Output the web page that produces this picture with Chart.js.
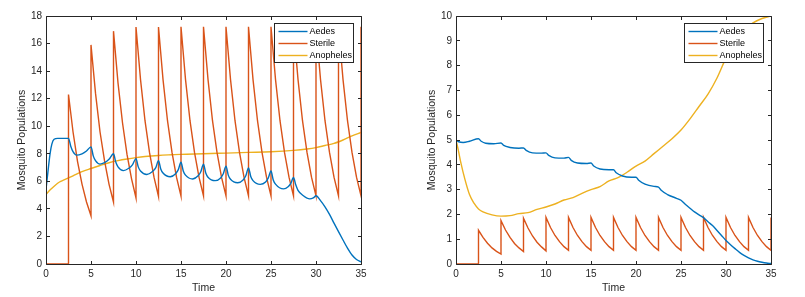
<!DOCTYPE html>
<html>
<head>
<meta charset="utf-8">
<script src="https://cdn.jsdelivr.net/npm/chart.js@4.4.0/dist/chart.umd.min.js"></script>
<style>
  body { margin: 0; background: #fff; width: 805px; height: 297px; position: relative; overflow: hidden; }
  canvas { position: absolute; top: 0; }
</style>
</head>
<body>
<canvas id="left" width="400" height="297" style="left:0"></canvas>
<canvas id="right" width="405" height="297" style="left:400px"></canvas>
<script>
// ---- shared ----
const labels = ['Aedes', 'Sterile', 'Anopheles'];
const xTicks = [0, 5, 10, 15, 20, 25, 30, 35];

// sterile releases every 2.5 time units (duplicate times = vertical jumps)
const sterileT = [0, 2.5, 2.5, 3, 3.5, 4, 4.5, 5, 5, 5.5, 6, 6.5, 7, 7.5, 7.5, 8, 8.5, 9, 9.5, 10,
  10, 10.5, 11, 11.5, 12, 12.5, 12.5, 13, 13.5, 14, 14.5, 15, 15, 15.5, 16, 16.5, 17, 17.5,
  17.5, 18, 18.5, 19, 19.5, 20, 20, 20.5, 21, 21.5, 22, 22.5, 22.5, 23, 23.5, 24, 24.5, 25,
  25, 25.5, 26, 26.5, 27, 27.5, 27.5, 28, 28.5, 29, 29.5, 30, 30, 30.5, 31, 31.5, 32, 32.5,
  32.5, 33, 33.5, 34, 34.5, 35, 35];

// ---- left panel ----
const leftYTicks = [0, 2, 4, 6, 8, 10, 12, 14, 16, 18];
const leftAedesT = [0, 0.2, 0.45, 0.65, 0.9, 1.3, 2.5, 2.75, 3.0, 3.4, 4.0, 4.5, 5.0, 5.25, 5.5, 6.0, 6.5, 7.0,
  7.5, 7.75, 8.0, 8.6, 9.2, 9.6, 10, 10.25, 10.5, 11.2, 11.8, 12.2, 12.5, 12.75, 13.0, 13.8, 14.4, 14.7,
  15, 15.25, 15.5, 16.3, 16.9, 17.2, 17.5, 17.75, 18.0, 18.8, 19.4, 19.7, 20, 20.25, 20.5, 21.3, 21.9, 22.2,
  22.5, 22.75, 23.0, 23.8, 24.4, 24.7, 25, 25.25, 25.5, 26.4, 26.9, 27.2, 27.5, 27.75, 28.0, 28.6, 29.3, 29.7,
  30, 30.5, 31, 31.5, 32, 32.5, 33, 33.5, 34, 34.5, 35];
const leftAedes = [5.4, 6.6, 8.0, 8.7, 9.05, 9.12, 9.12, 8.55, 8.15, 7.9, 8.0, 8.2, 8.5, 7.85, 7.5, 7.25, 7.35, 7.6,
  8.0, 7.4, 7.05, 6.78, 6.95, 7.2, 7.65, 7.05, 6.75, 6.5, 6.7, 7.0, 7.5, 6.9, 6.6, 6.33, 6.55, 6.85,
  7.38, 6.75, 6.45, 6.17, 6.4, 6.7, 7.25, 6.6, 6.3, 6.05, 6.25, 6.55, 7.1, 6.45, 6.15, 5.9, 6.1, 6.4,
  6.98, 6.35, 6.05, 5.78, 5.95, 6.25, 6.75, 6.1, 5.8, 5.45, 5.6, 5.85, 6.28, 5.75, 5.35, 4.95, 4.73, 4.8,
  4.95, 4.6, 4.15, 3.6, 2.97, 2.35, 1.74, 1.15, 0.65, 0.33, 0.15];
const leftSterile = [0, 0,
  12.3, 9.6, 7.45, 5.8, 4.5, 3.5,
  15.9, 12.4, 9.6, 7.5, 5.8, 4.5,
  16.9, 13.15, 10.25, 7.95, 6.2, 4.8,
  17.2, 13.4, 10.4, 8.1, 6.3, 4.9,
  17.2, 13.4, 10.4, 8.1, 6.3, 4.93,
  17.22, 13.4, 10.4, 8.1, 6.3, 4.95,
  17.22, 13.4, 10.4, 8.1, 6.3, 4.95,
  17.22, 13.4, 10.4, 8.1, 6.3, 4.95,
  17.22, 13.4, 10.4, 8.1, 6.3, 4.95,
  17.22, 13.4, 10.4, 8.1, 6.3, 4.95,
  17.22, 13.4, 10.4, 8.1, 6.3, 4.95,
  17.22, 13.4, 10.4, 8.1, 6.3, 4.95,
  17.22, 13.4, 10.4, 8.1, 6.3, 4.95,
  17.22];
const leftAnophT = [0, 0.5, 1, 1.5, 2, 2.5, 3, 4, 5, 6, 7, 8, 9, 10, 11, 12.5, 14, 15, 17.5, 20,
  22.5, 25, 27.5, 29, 30, 31, 32, 33, 34, 35];
const leftAnoph = [5.05, 5.4, 5.7, 5.95, 6.1, 6.25, 6.4, 6.7, 6.93, 7.15, 7.35, 7.5, 7.62, 7.72, 7.8, 7.88, 7.93, 7.96, 8.0, 8.05,
  8.1, 8.15, 8.25, 8.35, 8.45, 8.6, 8.75, 9.0, 9.3, 9.55];

// ---- right panel ----
const rightYTicks = [0, 1, 2, 3, 4, 5, 6, 7, 8, 9, 10];
const rightAedesT = [0, 0.3, 0.8, 1.5, 2.5, 2.8, 3.3, 4.2, 5, 5.3, 6.0, 7.0, 7.5, 7.8, 8.5, 9.5, 10, 10.3, 11, 12,
  12.5, 12.8, 13.5, 14.5, 15, 15.3, 16, 17, 17.5, 17.8, 18.5, 19.5, 20, 20.3, 21, 22, 22.5, 22.8, 23.5, 24.5,
  25, 25.5, 26, 26.5, 27, 27.5, 28, 28.5, 29, 29.5, 30, 30.5, 31, 31.5, 32, 32.5, 33, 33.5, 34, 34.5, 35];
const rightAedes = [5.0, 4.93, 4.9, 4.95, 5.05, 4.95, 4.87, 4.85, 4.88, 4.78, 4.7, 4.67, 4.68, 4.58, 4.48, 4.47, 4.48, 4.38, 4.28, 4.27,
  4.3, 4.18, 4.07, 4.05, 4.07, 3.95, 3.83, 3.8, 3.8, 3.68, 3.55, 3.5, 3.5, 3.38, 3.22, 3.13, 3.1, 2.97, 2.8, 2.65,
  2.57, 2.4, 2.25, 2.1, 1.98, 1.87, 1.7, 1.55, 1.35, 1.15, 0.95, 0.78, 0.62, 0.47, 0.35, 0.25, 0.17, 0.11, 0.07, 0.04, 0.02];
const rightSterile = [0, 0,
  1.36, 1.07, 0.84, 0.65, 0.51, 0.4,
  1.75, 1.37, 1.07, 0.83, 0.65, 0.5,
  1.85, 1.45, 1.13, 0.88, 0.69, 0.53,
  1.88, 1.47, 1.15, 0.9, 0.7, 0.55,
  1.88, 1.47, 1.15, 0.9, 0.7, 0.55,
  1.88, 1.47, 1.15, 0.9, 0.7, 0.55,
  1.88, 1.47, 1.15, 0.9, 0.7, 0.55,
  1.88, 1.47, 1.15, 0.9, 0.7, 0.55,
  1.88, 1.47, 1.15, 0.9, 0.7, 0.55,
  1.88, 1.47, 1.15, 0.9, 0.7, 0.55,
  1.88, 1.47, 1.15, 0.9, 0.7, 0.55,
  1.88, 1.47, 1.15, 0.9, 0.7, 0.55,
  1.88, 1.47, 1.15, 0.9, 0.7, 0.55,
  1.88];
const rightAnophT = [0, 0.25, 0.5, 1, 1.5, 2, 2.5, 3, 4, 5, 6, 7, 8, 9, 10, 11, 12, 13, 14, 15,
  16, 17, 18, 19, 20, 21, 22, 23, 24, 25, 26, 27, 28, 29, 30, 31, 32, 33, 34, 35];
const rightAnoph = [5.0, 4.6, 4.15, 3.4, 2.8, 2.45, 2.22, 2.1, 1.98, 1.93, 1.95, 2.03, 2.07, 2.2, 2.3, 2.42, 2.58, 2.68, 2.85, 3.0,
  3.12, 3.35, 3.48, 3.7, 3.95, 4.15, 4.45, 4.75, 5.05, 5.4, 5.85, 6.35, 6.85, 7.5, 8.3, 8.9, 9.4, 9.72, 9.9, 10.0];

const colors = ['#0072BD', '#D95319', '#EDB120'];
const FONT = '"Liberation Sans", Arial, Helvetica, sans-serif';
const INK = '#262626';

function line(i, t, y, straight) {
  return {
    label: labels[i],
    data: t.map((x, k) => ({ x, y: y[k] })),
    borderColor: colors[i],
    backgroundColor: colors[i],
    borderWidth: 1.4,
    pointRadius: 0,
    fill: false,
    tension: straight ? 0 : 0.4,
    cubicInterpolationMode: straight ? 'default' : 'monotone'
  };
}

// MATLAB style box, inward ticks and legend
const frame = {
  id: 'frame',
  afterDatasetsDraw(chart) {
    const { ctx, chartArea: a, scales: { x, y } } = chart;
    const L = Math.floor(a.left) + 0.5, R = Math.floor(a.right) + 0.5;
    const T = Math.floor(a.top) + 0.5, B = Math.floor(a.bottom) + 0.5;
    ctx.save();
    ctx.strokeStyle = INK;
    ctx.lineWidth = 1;
    ctx.beginPath();
    ctx.rect(L, T, R - L, B - T);
    x.ticks.forEach(t => {
      const p = Math.floor(x.getPixelForValue(t.value)) + 0.5;
      ctx.moveTo(p, B); ctx.lineTo(p, B - 3.5);
      ctx.moveTo(p, T); ctx.lineTo(p, T + 3.5);
    });
    y.ticks.forEach(t => {
      const p = Math.floor(y.getPixelForValue(t.value)) + 0.5;
      ctx.moveTo(L, p); ctx.lineTo(L + 3.5, p);
      ctx.moveTo(R, p); ctx.lineTo(R - 3.5, p);
    });
    ctx.stroke();

    const w = 79, h = 39;
    const bx = Math.floor(a.right) - 8 - w + 0.5, by = Math.floor(a.top) + 7 + 0.5;
    ctx.fillStyle = '#fff';
    ctx.fillRect(bx, by, w, h);
    ctx.strokeRect(bx, by, w, h);
    ctx.font = '9px ' + FONT;
    ctx.textBaseline = 'middle';
    chart.data.datasets.forEach((ds, i) => {
      const cy = by + 8 + i * 12;
      ctx.strokeStyle = ds.borderColor;
      ctx.lineWidth = 1.4;
      ctx.beginPath();
      ctx.moveTo(bx + 4, cy); ctx.lineTo(bx + 33, cy);
      ctx.stroke();
      ctx.fillStyle = '#000';
      ctx.fillText(ds.label, bx + 35, cy + 0.5);
    });
    ctx.restore();
  }
};

function makeChart(id, datasets, yTicks, yWidth, yTitlePad, rightPad) {
  new Chart(document.getElementById(id), {
    type: 'line',
    data: { datasets },
    options: {
      responsive: false,
      animation: false,
      layout: { padding: { top: 16, right: rightPad, left: 0, bottom: 0 } },
      plugins: { legend: { display: false }, tooltip: { enabled: false } },
      scales: {
        x: {
          type: 'linear',
          min: xTicks[0],
          max: xTicks[xTicks.length - 1],
          afterFit: s => { s.height = 33; },
          afterBuildTicks: s => { s.ticks = xTicks.map(v => ({ value: v })); },
          ticks: { color: INK, font: { family: FONT, size: 10 }, padding: 4, maxRotation: 0, autoSkip: false },
          grid: { display: false, drawTicks: false },
          border: { display: false },
          title: { display: true, text: 'Time', color: INK, font: { family: FONT, size: 10.5 }, padding: { top: 0, bottom: 2.7 } }
        },
        y: {
          type: 'linear',
          min: yTicks[0],
          max: yTicks[yTicks.length - 1],
          afterFit: s => { s.width = yWidth; },
          afterBuildTicks: s => { s.ticks = yTicks.map(v => ({ value: v })); },
          ticks: { color: INK, font: { family: FONT, size: 10 }, padding: 4, autoSkip: false },
          grid: { display: false, drawTicks: false },
          border: { display: false },
          title: { display: true, text: 'Mosquito Populations', color: INK, font: { family: FONT, size: 10.5 }, padding: { top: yTitlePad, bottom: 0 } }
        }
      }
    },
    plugins: [frame]
  });
}

makeChart('left', [
  line(0, leftAedesT, leftAedes),
  line(1, sterileT, leftSterile, true),
  line(2, leftAnophT, leftAnoph)
], leftYTicks, 46, 16.2, 39);

makeChart('right', [
  line(0, rightAedesT, rightAedes),
  line(1, sterileT, rightSterile, true),
  line(2, rightAnophT, rightAnoph)
], rightYTicks, 56, 25.7, 34);
</script>
</body>
</html>
